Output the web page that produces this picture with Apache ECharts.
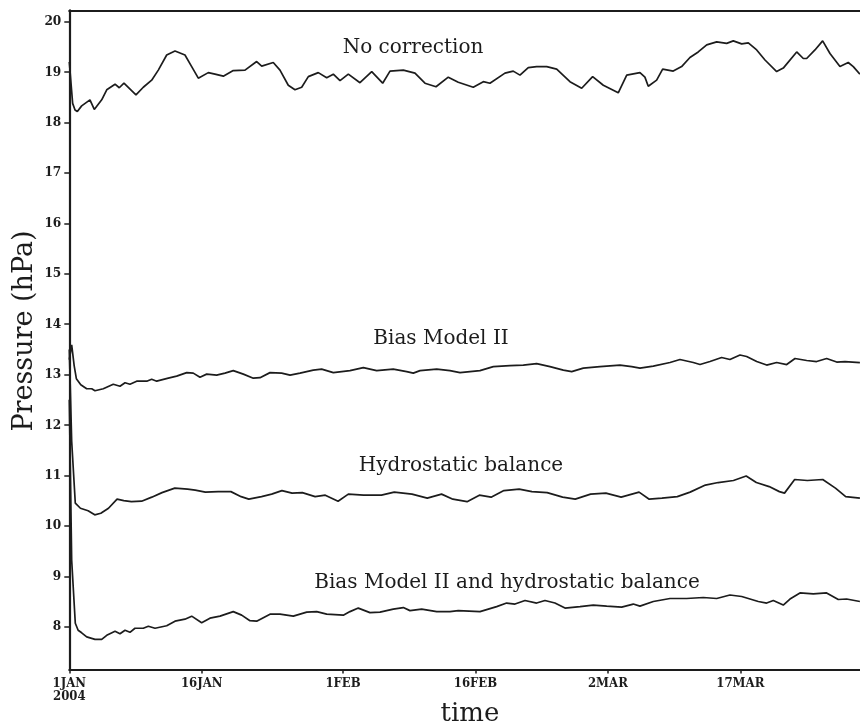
<!DOCTYPE html>
<html>
<head>
<meta charset="utf-8">
<script src="https://cdn.jsdelivr.net/npm/echarts@6/dist/echarts.min.js"></script>
<style>
html,body{margin:0;padding:0;background:#fff;}
#chart{width:860px;height:725px;}
</style>
</head>
<body>
<div id="chart"></div>
<script>
// x values are days since 1 JAN 2004 00Z, y values in hPa
const xTickDays = [0, 15, 31, 46, 61, 76];
const xTickLabels = ['1JAN\n2004', '16JAN', '1FEB', '16FEB', '2MAR', '17MAR'];
const yTickValues = [8, 9, 10, 11, 12, 13, 14, 15, 16, 17, 18, 19, 20];
const seriesNames = ['No correction', 'Bias Model II', 'Hydrostatic balance', 'Bias Model II and hydrostatic balance'];

const noCorrection = [
[0,19.20],[0.38,18.38],[0.65,18.25],[0.91,18.22],[1.40,18.33],[2.34,18.45],[2.83,18.26],[3.67,18.45],[4.24,18.65],[5.18,18.76],[5.66,18.69],[6.19,18.78],[7.55,18.55],[8.38,18.70],[9.33,18.84],[10.08,19.04],[11.03,19.34],[11.97,19.42],[13.10,19.34],[13.86,19.11],[14.61,18.88],[15.74,18.99],[16.50,18.96],[17.44,18.92],[18.57,19.03],[19.90,19.04],[21.22,19.21],[21.79,19.12],[23.10,19.19],[23.86,19.04],[24.80,18.74],[25.56,18.65],[26.32,18.70],[27.07,18.91],[28.20,18.99],[29.15,18.89],[29.90,18.96],[30.66,18.83],[31.60,18.96],[32.92,18.79],[34.25,19.01],[35.49,18.78],[36.32,19.02],[37.83,19.04],[39.15,18.98],[40.28,18.78],[41.53,18.71],[42.92,18.90],[44.05,18.80],[45.75,18.70],[46.89,18.81],[47.64,18.78],[49.34,18.98],[50.28,19.02],[51.04,18.94],[51.98,19.09],[52.93,19.11],[54.07,19.11],[55.20,19.06],[56.70,18.81],[58.03,18.68],[59.27,18.91],[60.48,18.74],[62.17,18.59],[63.13,18.94],[64.63,18.99],[65.19,18.90],[65.57,18.72],[66.52,18.84],[67.20,19.06],[68.40,19.02],[69.35,19.11],[70.29,19.29],[71.23,19.40],[72.19,19.54],[73.32,19.60],[74.45,19.57],[75.20,19.62],[76.15,19.56],[76.90,19.58],[77.85,19.44],[78.79,19.24],[80.11,19.01],[80.86,19.08],[82.38,19.40],[83.13,19.27],[83.51,19.27],[84.45,19.44],[85.32,19.62],[86.15,19.37],[87.28,19.11],[88.22,19.19],[88.79,19.11],[89.54,18.96]
];

const biasModel2 = [
[0,13.30],[0.27,13.59],[0.55,13.18],[0.80,12.92],[1.30,12.80],[1.97,12.72],[2.54,12.72],[2.91,12.68],[3.85,12.72],[4.98,12.81],[5.74,12.77],[6.31,12.84],[6.87,12.81],[7.63,12.87],[8.77,12.87],[9.33,12.91],[9.90,12.87],[11.21,12.93],[12.16,12.97],[13.30,13.04],[14.04,13.03],[14.80,12.95],[15.56,13.01],[16.69,12.99],[17.63,13.03],[18.57,13.08],[19.71,13.01],[20.84,12.93],[21.60,12.94],[22.73,13.04],[24.05,13.03],[25.00,12.99],[26.13,13.03],[27.63,13.09],[28.58,13.11],[29.90,13.04],[31.79,13.08],[33.30,13.14],[34.81,13.08],[36.69,13.11],[38.21,13.06],[38.96,13.03],[39.72,13.08],[41.61,13.11],[43.11,13.08],[44.25,13.04],[46.51,13.08],[48.02,13.16],[49.91,13.18],[51.42,13.19],[52.93,13.22],[54.44,13.16],[55.95,13.09],[56.90,13.06],[58.21,13.13],[60.10,13.16],[62.37,13.19],[63.69,13.16],[64.63,13.13],[66.14,13.17],[68.03,13.24],[69.16,13.30],[70.67,13.24],[71.43,13.20],[72.56,13.26],[73.88,13.34],[74.82,13.30],[75.96,13.39],[76.71,13.36],[77.85,13.26],[78.98,13.19],[80.11,13.24],[81.25,13.20],[82.19,13.32],[83.51,13.28],[84.64,13.26],[85.77,13.32],[86.91,13.25],[87.85,13.26],[89.54,13.24]
];

const hydrostatic = [
[0,13.50],[0.27,11.68],[0.68,10.45],[1.26,10.35],[2.13,10.30],[2.88,10.22],[3.57,10.25],[4.44,10.35],[5.41,10.53],[6.17,10.50],[7.03,10.48],[8.19,10.49],[9.34,10.57],[10.50,10.66],[11.95,10.75],[13.40,10.73],[14.26,10.71],[15.41,10.67],[16.86,10.68],[18.30,10.68],[19.46,10.58],[20.33,10.53],[21.77,10.58],[22.92,10.63],[24.08,10.70],[25.23,10.65],[26.39,10.66],[27.84,10.58],[28.99,10.61],[30.44,10.49],[31.60,10.63],[33.33,10.61],[35.35,10.61],[36.80,10.67],[38.81,10.63],[40.54,10.55],[42.16,10.63],[43.44,10.53],[45.05,10.48],[46.44,10.61],[47.77,10.57],[49.22,10.70],[50.95,10.73],[52.39,10.68],[54.12,10.66],[55.87,10.57],[57.30,10.53],[59.04,10.63],[60.77,10.65],[62.50,10.57],[64.53,10.67],[65.68,10.53],[67.12,10.55],[68.86,10.58],[70.31,10.67],[72.04,10.81],[73.49,10.86],[75.22,10.90],[76.66,10.99],[77.81,10.86],[79.26,10.78],[80.42,10.68],[81.00,10.65],[82.15,10.92],[83.59,10.90],[85.33,10.92],[86.77,10.75],[87.93,10.58],[89.54,10.55]
];

const combined = [
[0,12.50],[0.27,9.32],[0.68,8.07],[1.00,7.93],[1.40,7.88],[1.97,7.80],[2.91,7.75],[3.67,7.75],[4.24,7.83],[5.18,7.91],[5.74,7.86],[6.31,7.93],[6.87,7.89],[7.44,7.97],[8.38,7.97],[8.95,8.01],[9.71,7.97],[11.03,8.02],[11.97,8.11],[13.10,8.15],[13.86,8.21],[14.99,8.08],[15.93,8.17],[17.07,8.21],[18.57,8.30],[19.52,8.23],[20.46,8.12],[21.22,8.11],[22.73,8.25],[23.86,8.25],[25.37,8.21],[26.89,8.29],[28.02,8.30],[29.15,8.25],[31.03,8.23],[31.79,8.30],[32.73,8.37],[34.05,8.28],[35.19,8.29],[36.69,8.35],[37.83,8.38],[38.58,8.32],[39.91,8.35],[41.61,8.30],[43.11,8.30],[44.05,8.32],[46.51,8.30],[48.40,8.40],[49.53,8.47],[50.48,8.45],[51.61,8.52],[52.93,8.47],[53.87,8.52],[55.00,8.47],[56.14,8.37],[57.84,8.40],[59.34,8.43],[60.86,8.41],[62.56,8.39],[63.87,8.45],[64.63,8.41],[66.14,8.50],[68.03,8.56],[69.92,8.56],[71.80,8.58],[73.32,8.56],[74.82,8.63],[76.15,8.60],[77.09,8.55],[78.03,8.50],[78.98,8.47],[79.73,8.52],[80.86,8.43],[81.62,8.55],[82.75,8.67],[84.26,8.65],[85.77,8.67],[87.09,8.54],[88.03,8.55],[89.54,8.50]
];

const allSeries = [noCorrection, biasModel2, hydrostatic, combined];

const ink = '#1c1c1c';
const tickFont = "'DejaVu Serif Condensed', 'DejaVu Serif', serif";
const textFont = "'DejaVu Serif', serif";

const chart = echarts.init(document.getElementById('chart'), null, {renderer: 'canvas'});

const labelMap = {};
xTickDays.forEach((d, i) => { labelMap[d] = xTickLabels[i]; });

const option = {
  animation: false,
  backgroundColor: '#fff',
  grid: {left: 69.3, right: 0, top: 10.3, bottom: 55.5, containLabel: false},
  xAxis: [{
    type: 'value', min: 0, max: 89.55,
    axisLine: {show: true, lineStyle: {color: ink, width: 2.2}},
    axisTick: {show: true, customValues: xTickDays, length: 4, lineStyle: {color: ink, width: 1.5}},
    axisLabel: {
      customValues: xTickDays, margin: 8, color: ink,
      fontFamily: tickFont, fontWeight: 'bold', fontSize: 13, lineHeight: 13,
      formatter: v => labelMap[v] !== undefined ? labelMap[v] : ''
    },
    splitLine: {show: false}
  }, {
    type: 'value', min: 0, max: 89.55, position: 'top',
    axisLine: {show: true, onZero: false, lineStyle: {color: ink, width: 2.2}},
    axisTick: {show: false}, axisLabel: {show: false}, splitLine: {show: false}
  }],
  yAxis: {
    type: 'value', min: 7.152, max: 20.226,
    axisLine: {show: true, onZero: false, lineStyle: {color: ink, width: 2.2}},
    axisTick: {show: true, customValues: yTickValues, length: 5, lineStyle: {color: ink, width: 1.5}},
    axisLabel: {
      customValues: yTickValues, margin: 8, color: ink,
      fontFamily: tickFont, fontWeight: 'bold', fontSize: 13.5
    },
    splitLine: {show: false}
  },
  series: allSeries.map((d, i) => ({
    name: seriesNames[i],
    type: 'line',
    data: d,
    showSymbol: false,
    symbol: 'none',
    clip: true,
    lineStyle: {color: ink, width: 1.7},
    z: 3
  })),
  graphic: [
    {type: 'text', x: 413, y: 48, style: {text: seriesNames[0], font: "20px " + textFont, fill: ink, align: 'center', verticalAlign: 'middle'}},
    {type: 'text', x: 441, y: 339, style: {text: seriesNames[1], font: "20px " + textFont, fill: ink, align: 'center', verticalAlign: 'middle'}},
    {type: 'text', x: 461, y: 466, style: {text: seriesNames[2], font: "20px " + textFont, fill: ink, align: 'center', verticalAlign: 'middle'}},
    {type: 'text', x: 507, y: 583, style: {text: seriesNames[3], font: "20px " + textFont, fill: ink, align: 'center', verticalAlign: 'middle'}},
    {type: 'text', x: 25, y: 331, rotation: Math.PI / 2, style: {text: 'Pressure (hPa)', font: "27px " + textFont, fill: ink, align: 'center', verticalAlign: 'middle'}},
    {type: 'text', x: 470, y: 714, style: {text: 'time', font: "26px " + textFont, fill: ink, align: 'center', verticalAlign: 'middle'}}
  ]
};

chart.setOption(option);
</script>
</body>
</html>
